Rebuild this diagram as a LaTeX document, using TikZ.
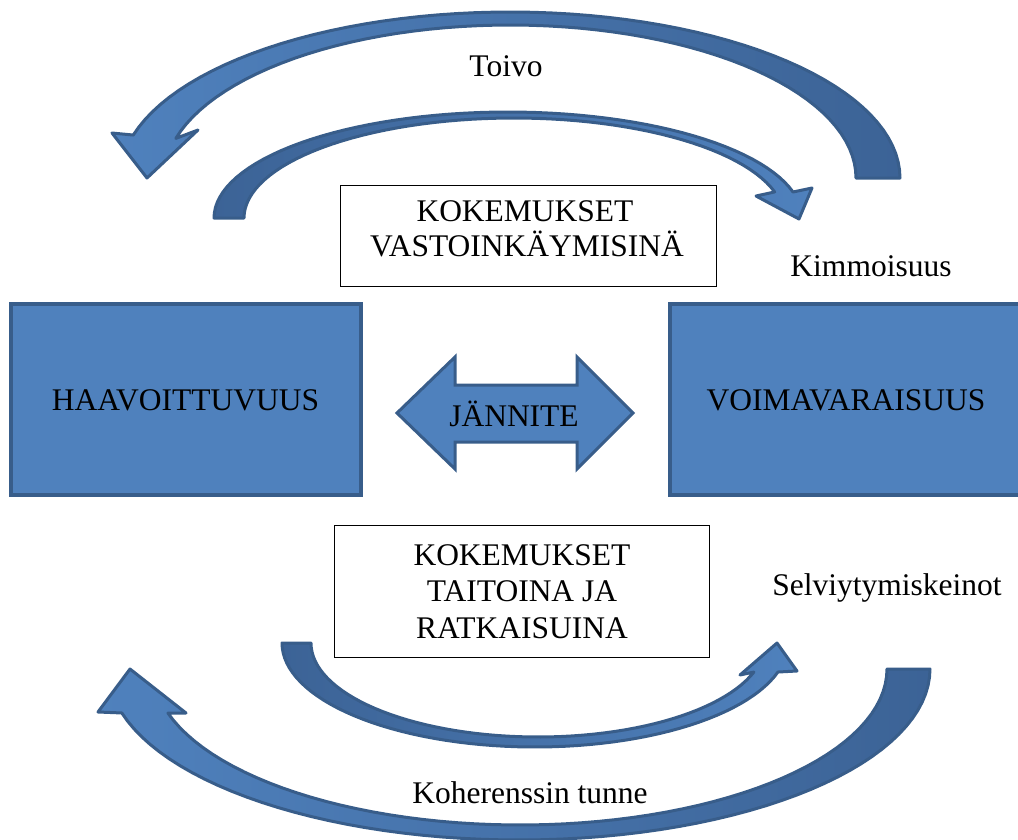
\documentclass[tikz,border=0pt]{standalone}
\usepackage{fontspec}
\setmainfont{Liberation Serif}
\definecolor{blueF}{HTML}{4F81BD}
\definecolor{blueB}{HTML}{385D8A}
\definecolor{blueD}{HTML}{3C6396}
\tikzset{
  lbl/.style={font=\fontsize{31.5}{36}\selectfont, inner sep=0pt, text=black},
  bigbox/.style={draw=blueB, fill=blueF, line width=4pt, rectangle, inner sep=0pt},
  txtbox/.style={draw=black, line width=1pt, rectangle, fill=white, inner sep=0pt},
  curvarrow/.style={draw=blueB, line width=3pt, line join=round},
}
\begin{document}
\begin{tikzpicture}[x=1pt,y=-1pt]
\useasboundingbox (0,0) rectangle (1018,839);

% top big curved arrow (Toivo)
\path[curvarrow, left color=blueF, right color=blueD]
  (900,178) -- plot[domain=0:165, samples=60, variable=\t] ({510+390*cos(\t)},{178-166*sin(\t)})
  -- (112,133) -- (147,178) -- (198,130)
  -- plot[domain=165:0, samples=60, variable=\t] ({510+346*cos(\t)},{178-153*sin(\t)}) -- cycle;

% top inner curved arrow
\path[curvarrow, left color=blueD, right color=blueF]
  (214,218) -- plot[domain=180:14.2, samples=60, variable=\t] ({508+294*cos(\t)},{218-106*sin(\t)})
  -- (812,188) -- (799,219) -- (756,196)
  -- plot[domain=15.1:180, samples=60, variable=\t] ({514+270*cos(\t)},{218-100*sin(\t)}) -- cycle;

% bottom inner curved arrow
\path[curvarrow, left color=blueD, right color=blueF]
  (282,643) -- plot[domain=180:16.2, samples=60, variable=\t] ({535+253*cos(\t)},{643+104*sin(\t)})
  -- (797,671) -- (777,643) -- (740,675)
  -- plot[domain=18:180, samples=60, variable=\t] ({538+227*cos(\t)},{643+94*sin(\t)}) -- cycle;

% bottom big curved arrow (Koherenssin tunne)
\path[curvarrow, left color=blueF, right color=blueD]
  (930,669) -- plot[domain=0:165.1, samples=60, variable=\t] ({519+411*cos(\t)},{669+171*sin(\t)})
  -- (98,712) -- (130,669) -- (186,713)
  -- plot[domain=163.6:0, samples=60, variable=\t] ({520+367*cos(\t)},{669+156*sin(\t)}) -- cycle;

% main boxes
\node[bigbox, minimum width=350pt, minimum height=191pt] (haav) at (186,399.5) {};
\node[lbl, anchor=base] (haavt) at (185.5,410) {HAAVOITTUVUUS};
\node[bigbox, minimum width=356pt, minimum height=191pt] (voim) at (848,399.5) {};
\node[lbl, anchor=base] (voimt) at (846,410) {VOIMAVARAISUUS};

% text boxes
\node[txtbox, minimum width=376pt, minimum height=101pt] (kv) at (528.5,236) {};
\node[lbl, anchor=base] (kv1) at (525,221.7) {KOKEMUKSET};
\node[lbl, anchor=base] (kv2) at (527,256.7) {VASTOINKÄYMISINÄ};

\node[txtbox, minimum width=375pt, minimum height=132pt] (kt) at (522,591.5) {};
\node[lbl, anchor=base] (kt1) at (522,565) {KOKEMUKSET};
\node[lbl, anchor=base] (kt2) at (522,601.7) {TAITOINA JA};
\node[lbl, anchor=base] (kt3) at (522,638.3) {RATKAISUINA};

% double arrow
\path[draw=blueB, fill=blueF, line width=3pt, line join=miter]
  (397,413) -- (455,357) -- (455,385) -- (577,385) -- (577,357) -- (633,413)
  -- (577,469) -- (577,442) -- (455,442) -- (455,469) -- cycle;
\node[lbl, anchor=base] (jan) at (514,426) {JÄNNITE};

% free labels
\node[lbl, anchor=base] (toivo) at (506,76.7) {Toivo};
\node[lbl, anchor=base] (kimmo) at (871,276.7) {Kimmoisuus};
\node[lbl, anchor=base] (selv) at (887,595) {Selviytymiskeinot};
\node[lbl, anchor=base] (koh) at (530,803) {Koherenssin tunne};
\end{tikzpicture}
\end{document}
